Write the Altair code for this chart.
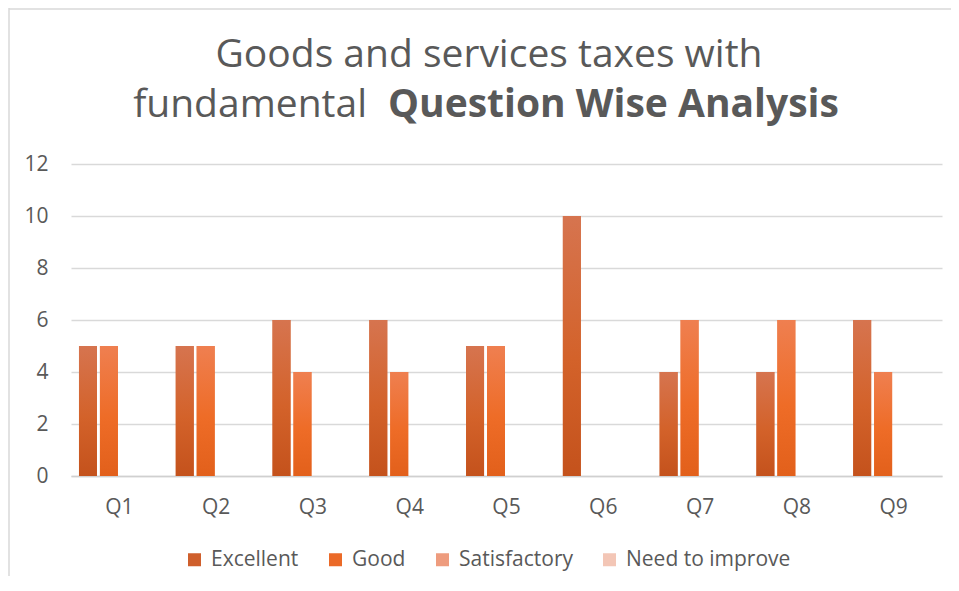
import altair as alt
import pandas as pd

questions = ["Q1", "Q2", "Q3", "Q4", "Q5", "Q6", "Q7", "Q8", "Q9"]
series = ["Excellent", "Good", "Satisfactory", "Need to improve"]
excellent = [5, 5, 6, 6, 5, 10, 4, 4, 6]
good = [5, 5, 4, 4, 5, 0, 6, 6, 4]
satisfactory = [0, 0, 0, 0, 0, 0, 0, 0, 0]
need_to_improve = [0, 0, 0, 0, 0, 0, 0, 0, 0]
colors = ["#CF5F2C", "#EB6A28", "#EE9C7E", "#F3C6B6"]
grad_top = ["#D6744F", "#EF7F50", "#F2AE94", "#F6D3C6"]
grad_mid = ["#D3622A", "#EE6C27", "#EE9C7E", "#F3C6B6"]
grad_bot = ["#C4521C", "#E2601B", "#E38A6A", "#EDB9A6"]

rows = []
for name, vals in zip(series, [excellent, good, satisfactory, need_to_improve]):
    for q, v in zip(questions, vals):
        rows.append({"Question": q, "Rating": name, "Count": v})
df = pd.DataFrame(rows)

FONT = "Open Sans"
GREY = "#595959"
LBL = 21

x_enc = alt.X("Question:N", sort=questions,
              scale=alt.Scale(paddingInner=0.165, paddingOuter=0.0825),
              axis=alt.Axis(title=None, labelAngle=0, ticks=False, grid=False,
                            labelFontSize=LBL, labelColor=GREY, labelFont=FONT,
                            labelPadding=20, domainColor="#D0D0D0", domainWidth=1.5))
xo_enc = alt.XOffset("Rating:N", sort=series,
                     scale=alt.Scale(domain=series, paddingInner=0.143))
y_enc = alt.Y("Count:Q", scale=alt.Scale(domain=[0, 12], nice=False),
              axis=alt.Axis(title=None, values=[0, 2, 4, 6, 8, 10, 12], domain=False,
                            ticks=False, labelFontSize=LBL, labelColor=GREY,
                            labelFont=FONT, labelPadding=23, gridColor="#D9D9D9",
                            gridWidth=1.5))

base = alt.Chart(df).mark_bar().encode(
    x=x_enc, xOffset=xo_enc, y=y_enc,
    color=alt.Color("Rating:N", sort=series,
                    scale=alt.Scale(domain=series, range=colors),
                    legend=alt.Legend(title=None, orient="none", direction="horizontal",
                                      legendX=113, legendY=385, symbolType="square",
                                      symbolSize=169, symbolStrokeWidth=0,
                                      labelFontSize=LBL, labelColor=GREY, labelFont=FONT,
                                      labelLimit=400, columnPadding=26, labelOffset=6)),
)

grad_layers = []
for name, t, m, b in zip(series, grad_top, grad_mid, grad_bot):
    g = alt.Gradient(gradient="linear", x1=0, x2=0, y1=0, y2=1,
                     stops=[alt.GradientStop(color=t, offset=0),
                            alt.GradientStop(color=m, offset=0.55),
                            alt.GradientStop(color=b, offset=1)])
    grad_layers.append(
        alt.Chart(df).transform_filter(alt.datum.Rating == name)
        .mark_bar(fill=g).encode(x=x_enc, xOffset=xo_enc, y=y_enc)
    )

one = alt.Data(values=[{"a": 1}])
TS = 39

title1 = alt.Chart(one).mark_text(
    text="Goods and services taxes with", fontSize=TS, font=FONT, color=GREY,
    align="center", baseline="alphabetic"
).encode(x=alt.value(418), y=alt.value(-97))

title2a = alt.Chart(one).mark_text(
    text="fundamental", fontSize=TS, font=FONT, color=GREY,
    align="right", baseline="alphabetic"
).encode(x=alt.value(296), y=alt.value(-47))

title2b = alt.Chart(one).mark_text(
    text="Question Wise Analysis", fontSize=TS, font=FONT, color=GREY,
    fontWeight="bold", align="left", baseline="alphabetic"
).encode(x=alt.value(317), y=alt.value(-47))

border_left = alt.Chart(one).mark_rule(color="#D9D9D9", strokeWidth=1.5).encode(
    x=alt.value(-62), y=alt.value(-156), y2=alt.value(420))
border_top = alt.Chart(one).mark_rule(color="#D9D9D9", strokeWidth=1.5).encode(
    x=alt.value(-62), x2=alt.value(880), y=alt.value(-155))

chart = alt.layer(base, *grad_layers, title1, title2a, title2b,
                  border_left, border_top).properties(
    width=871, height=312,
    background="white",
    autosize=alt.AutoSizeParams(type="none"),
    padding={"left": 63, "top": 156, "right": 9, "bottom": 100},
).configure_view(strokeWidth=0)

chart.save("out.html", embed_options={"renderer": "svg", "actions": False})
